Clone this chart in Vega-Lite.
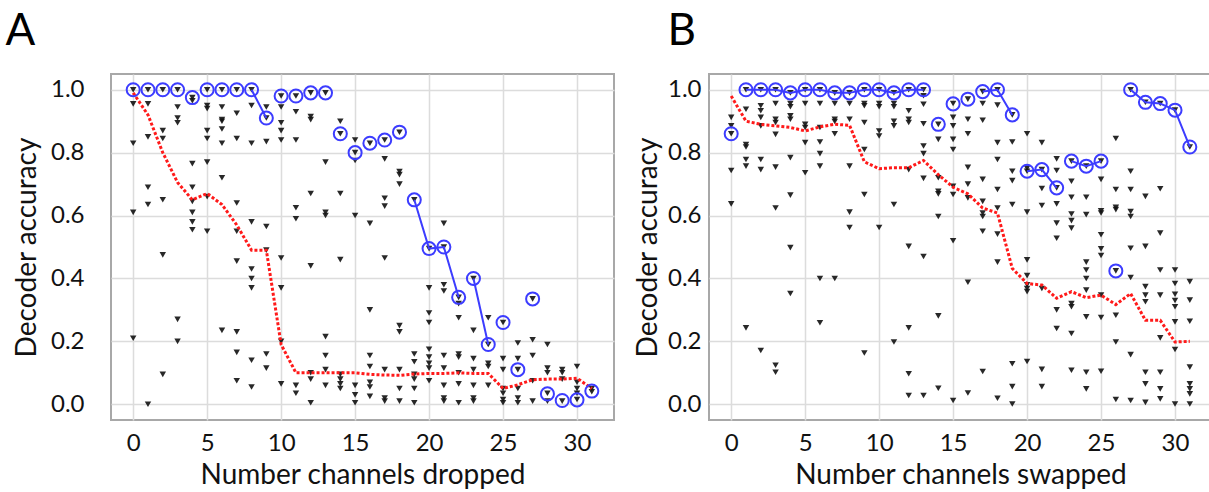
{
"$schema": "https://vega.github.io/schema/vega-lite/v6.json",
"padding": {"left": 4, "top": 9, "right": 0, "bottom": 0},
"spacing": 18,
"config": {
  "view": {"stroke": "#a8a8a8", "strokeWidth": 2},
  "font": "Lato",
  "axis": {"grid": true, "gridColor": "#dcdcdc", "gridWidth": 1.5, "ticks": false, "domain": false, "labelFontSize": 24, "titleFontSize": 28, "labelColor": "#111111", "titleColor": "#111111", "titleFontWeight": "normal", "labelFont": "Lato", "titleFont": "Lato"},
  "title": {"fontSize": 44, "fontWeight": "normal", "anchor": "start", "frame": "bounds", "color": "#000", "font": "Lato", "baseline": "alphabetic"}
},
"datasets": {
  "ptsA": [
    {"x":0,"y":1.0},{"x":0,"y":0.955},{"x":0,"y":0.83},{"x":0,"y":0.61},{"x":0,"y":0.21},
    {"x":1,"y":1.0},{"x":1,"y":0.955},{"x":1,"y":0.85},{"x":1,"y":0.69},{"x":1,"y":0.635},{"x":1,"y":0.0},
    {"x":2,"y":1.0},{"x":2,"y":0.87},{"x":2,"y":0.845},{"x":2,"y":0.65},{"x":2,"y":0.475},{"x":2,"y":0.095},
    {"x":3,"y":1.0},{"x":3,"y":0.945},{"x":3,"y":0.91},{"x":3,"y":0.895},{"x":3,"y":0.27},{"x":3,"y":0.2},
    {"x":4,"y":0.975},{"x":4,"y":0.965},{"x":4,"y":0.765},{"x":4,"y":0.69},{"x":4,"y":0.645},{"x":4,"y":0.61},{"x":4,"y":0.58},{"x":4,"y":0.555},
    {"x":5,"y":1.0},{"x":5,"y":0.95},{"x":5,"y":0.94},{"x":5,"y":0.87},{"x":5,"y":0.845},{"x":5,"y":0.77},{"x":5,"y":0.66},{"x":5,"y":0.55},
    {"x":6,"y":1.0},{"x":6,"y":0.945},{"x":6,"y":0.905},{"x":6,"y":0.9},{"x":6,"y":0.875},{"x":6,"y":0.83},{"x":6,"y":0.72},{"x":6,"y":0.235},
    {"x":7,"y":1.0},{"x":7,"y":0.925},{"x":7,"y":0.845},{"x":7,"y":0.64},{"x":7,"y":0.55},{"x":7,"y":0.455},{"x":7,"y":0.23},{"x":7,"y":0.165},{"x":7,"y":0.075},
    {"x":8,"y":1.0},{"x":8,"y":0.95},{"x":8,"y":0.83},{"x":8,"y":0.58},{"x":8,"y":0.43},{"x":8,"y":0.4},{"x":8,"y":0.37},{"x":8,"y":0.14},{"x":8,"y":0.055},
    {"x":9,"y":0.945},{"x":9,"y":0.91},{"x":9,"y":0.835},{"x":9,"y":0.565},{"x":9,"y":0.49},{"x":9,"y":0.16},{"x":9,"y":0.115},
    {"x":10,"y":0.98},{"x":10,"y":0.945},{"x":10,"y":0.895},{"x":10,"y":0.87},{"x":10,"y":0.84},{"x":10,"y":0.465},{"x":10,"y":0.37},{"x":10,"y":0.2},{"x":10,"y":0.065},
    {"x":11,"y":0.98},{"x":11,"y":0.93},{"x":11,"y":0.84},{"x":11,"y":0.625},{"x":11,"y":0.59},{"x":11,"y":0.06},{"x":11,"y":0.035},
    {"x":12,"y":0.99},{"x":12,"y":0.915},{"x":12,"y":0.905},{"x":12,"y":0.67},{"x":12,"y":0.44},{"x":12,"y":0.1},{"x":12,"y":0.08},{"x":12,"y":0.005},
    {"x":13,"y":0.99},{"x":13,"y":0.77},{"x":13,"y":0.61},{"x":13,"y":0.6},{"x":13,"y":0.215},{"x":13,"y":0.155},{"x":13,"y":0.11},{"x":13,"y":0.06},
    {"x":14,"y":0.9},{"x":14,"y":0.86},{"x":14,"y":0.67},{"x":14,"y":0.46},{"x":14,"y":0.095},{"x":14,"y":0.08},{"x":14,"y":0.065},{"x":14,"y":0.05},
    {"x":15,"y":0.84},{"x":15,"y":0.8},{"x":15,"y":0.775},{"x":15,"y":0.6},{"x":15,"y":0.06},{"x":15,"y":0.03},{"x":15,"y":0.005},
    {"x":16,"y":0.83},{"x":16,"y":0.575},{"x":16,"y":0.3},{"x":16,"y":0.155},{"x":16,"y":0.12},{"x":16,"y":0.07},{"x":16,"y":0.055},{"x":16,"y":0.025},
    {"x":17,"y":0.84},{"x":17,"y":0.78},{"x":17,"y":0.655},{"x":17,"y":0.63},{"x":17,"y":0.465},{"x":17,"y":0.11},{"x":17,"y":0.02},{"x":17,"y":0.01},
    {"x":18,"y":0.865},{"x":18,"y":0.74},{"x":18,"y":0.73},{"x":18,"y":0.7},{"x":18,"y":0.25},{"x":18,"y":0.23},{"x":18,"y":0.11},{"x":18,"y":0.05},{"x":18,"y":0.01},
    {"x":19,"y":0.65},{"x":19,"y":0.16},{"x":19,"y":0.135},{"x":19,"y":0.095},{"x":19,"y":0.08},{"x":19,"y":0.05},{"x":19,"y":0.005},
    {"x":20,"y":0.495},{"x":20,"y":0.37},{"x":20,"y":0.29},{"x":20,"y":0.26},{"x":20,"y":0.175},{"x":20,"y":0.15},{"x":20,"y":0.13},{"x":20,"y":0.115},{"x":20,"y":0.075},
    {"x":21,"y":0.575},{"x":21,"y":0.5},{"x":21,"y":0.38},{"x":21,"y":0.36},{"x":21,"y":0.155},{"x":21,"y":0.115},{"x":21,"y":0.06},{"x":21,"y":0.02},{"x":21,"y":0.01},
    {"x":22,"y":0.34},{"x":22,"y":0.32},{"x":22,"y":0.275},{"x":22,"y":0.16},{"x":22,"y":0.15},{"x":22,"y":0.1},{"x":22,"y":0.065},{"x":22,"y":0.005},
    {"x":23,"y":0.4},{"x":23,"y":0.235},{"x":23,"y":0.145},{"x":23,"y":0.11},{"x":23,"y":0.06},{"x":23,"y":0.02},{"x":23,"y":0.01},
    {"x":24,"y":0.275},{"x":24,"y":0.19},{"x":24,"y":0.13},{"x":24,"y":0.12},{"x":24,"y":0.06},
    {"x":25,"y":0.26},{"x":25,"y":0.145},{"x":25,"y":0.11},{"x":25,"y":0.05},{"x":25,"y":0.035},{"x":25,"y":0.015},{"x":25,"y":0.005},
    {"x":26,"y":0.195},{"x":26,"y":0.145},{"x":26,"y":0.11},{"x":26,"y":0.05},{"x":26,"y":0.02},{"x":26,"y":0.005},
    {"x":27,"y":0.335},{"x":27,"y":0.205},{"x":27,"y":0.155},{"x":27,"y":0.075},{"x":27,"y":0.01},
    {"x":28,"y":0.19},{"x":28,"y":0.115},{"x":28,"y":0.1},{"x":28,"y":0.035},{"x":28,"y":0.01},
    {"x":29,"y":0.11},{"x":29,"y":0.1},{"x":29,"y":0.08},{"x":29,"y":0.01},
    {"x":30,"y":0.12},{"x":30,"y":0.07},{"x":30,"y":0.05},{"x":30,"y":0.035},{"x":30,"y":0.015},
    {"x":31,"y":0.05},{"x":31,"y":0.04}
  ],
  "meanA": [
    {"x":0,"y":0.99},{"x":1,"y":0.92},{"x":2,"y":0.8},{"x":3,"y":0.705},{"x":4,"y":0.65},{"x":5,"y":0.67},{"x":6,"y":0.635},{"x":7,"y":0.57},{"x":8,"y":0.49},{"x":9,"y":0.49},{"x":10,"y":0.19},{"x":11,"y":0.1},{"x":12,"y":0.1},{"x":13,"y":0.1},{"x":14,"y":0.1},{"x":15,"y":0.1},{"x":16,"y":0.095},{"x":17,"y":0.093},{"x":18,"y":0.092},{"x":19,"y":0.096},{"x":20,"y":0.098},{"x":21,"y":0.098},{"x":22,"y":0.1},{"x":23,"y":0.098},{"x":24,"y":0.098},{"x":25,"y":0.05},{"x":26,"y":0.062},{"x":27,"y":0.078},{"x":28,"y":0.08},{"x":29,"y":0.08},{"x":30,"y":0.083},{"x":31,"y":0.05}
  ],
  "maxA": [
    {"x":0,"y":1.0,"seg":null},{"x":1,"y":1.0,"seg":null},{"x":2,"y":1.0,"seg":null},{"x":3,"y":1.0,"seg":null},{"x":4,"y":0.975,"seg":null},{"x":5,"y":1.0,"seg":null},{"x":6,"y":1.0,"seg":null},{"x":7,"y":1.0,"seg":null},{"x":8,"y":1.0,"seg":"a1"},{"x":9,"y":0.91,"seg":"a1"},{"x":10,"y":0.98,"seg":null},{"x":11,"y":0.98,"seg":null},{"x":12,"y":0.99,"seg":null},{"x":13,"y":0.99,"seg":null},{"x":14,"y":0.86,"seg":null},{"x":15,"y":0.8,"seg":null},{"x":16,"y":0.83,"seg":null},{"x":17,"y":0.84,"seg":null},{"x":18,"y":0.865,"seg":null},{"x":19,"y":0.65,"seg":"a2"},{"x":20,"y":0.495,"seg":"a2"},{"x":21,"y":0.5,"seg":"a2"},{"x":22,"y":0.34,"seg":"a2"},{"x":23,"y":0.4,"seg":"a3"},{"x":24,"y":0.19,"seg":"a3"},{"x":25,"y":0.26,"seg":null},{"x":26,"y":0.11,"seg":null},{"x":27,"y":0.335,"seg":null},{"x":28,"y":0.033,"seg":null},{"x":29,"y":0.012,"seg":null},{"x":30,"y":0.014,"seg":null},{"x":31,"y":0.042,"seg":null}
  ],
  "ptsB": [
    {"x":0,"y":0.912},{"x":0,"y":0.885},{"x":0,"y":0.86},{"x":0,"y":0.743},{"x":0,"y":0.637},
    {"x":1,"y":1.0},{"x":1,"y":0.938},{"x":1,"y":0.826},{"x":1,"y":0.818},{"x":1,"y":0.778},{"x":1,"y":0.757},{"x":1,"y":0.243},
    {"x":2,"y":1.0},{"x":2,"y":0.949},{"x":2,"y":0.933},{"x":2,"y":0.912},{"x":2,"y":0.885},{"x":2,"y":0.778},{"x":2,"y":0.746},{"x":2,"y":0.171},
    {"x":3,"y":1.0},{"x":3,"y":0.956},{"x":3,"y":0.906},{"x":3,"y":0.896},{"x":3,"y":0.858},{"x":3,"y":0.754},{"x":3,"y":0.624},{"x":3,"y":0.124},{"x":3,"y":0.102},
    {"x":4,"y":0.99},{"x":4,"y":0.956},{"x":4,"y":0.946},{"x":4,"y":0.917},{"x":4,"y":0.906},{"x":4,"y":0.784},{"x":4,"y":0.665},{"x":4,"y":0.498},{"x":4,"y":0.352},
    {"x":5,"y":1.0},{"x":5,"y":0.956},{"x":5,"y":0.89},{"x":5,"y":0.88},{"x":5,"y":0.832},{"x":5,"y":0.736},
    {"x":6,"y":1.0},{"x":6,"y":0.956},{"x":6,"y":0.88},{"x":6,"y":0.834},{"x":6,"y":0.797},{"x":6,"y":0.757},{"x":6,"y":0.4},{"x":6,"y":0.259},
    {"x":7,"y":0.99},{"x":7,"y":0.956},{"x":7,"y":0.906},{"x":7,"y":0.899},{"x":7,"y":0.86},{"x":7,"y":0.4},
    {"x":8,"y":0.99},{"x":8,"y":0.956},{"x":8,"y":0.906},{"x":8,"y":0.757},{"x":8,"y":0.611},{"x":8,"y":0.562},
    {"x":9,"y":1.0},{"x":9,"y":0.956},{"x":9,"y":0.949},{"x":9,"y":0.896},{"x":9,"y":0.81},{"x":9,"y":0.667},{"x":9,"y":0.163},
    {"x":10,"y":1.0},{"x":10,"y":0.956},{"x":10,"y":0.946},{"x":10,"y":0.869},{"x":10,"y":0.853},{"x":10,"y":0.562},
    {"x":11,"y":0.99},{"x":11,"y":0.956},{"x":11,"y":0.946},{"x":11,"y":0.9},{"x":11,"y":0.885},{"x":11,"y":0.635},{"x":11,"y":0.198},
    {"x":12,"y":1.0},{"x":12,"y":0.933},{"x":12,"y":0.906},{"x":12,"y":0.896},{"x":12,"y":0.746},{"x":12,"y":0.502},{"x":12,"y":0.243},{"x":12,"y":0.097},{"x":12,"y":0.028},
    {"x":13,"y":1.0},{"x":13,"y":0.981},{"x":13,"y":0.954},{"x":13,"y":0.892},{"x":13,"y":0.821},{"x":13,"y":0.797},{"x":13,"y":0.718},{"x":13,"y":0.47},{"x":13,"y":0.028},
    {"x":14,"y":0.89},{"x":14,"y":0.842},{"x":14,"y":0.72},{"x":14,"y":0.677},{"x":14,"y":0.669},{"x":14,"y":0.597},{"x":14,"y":0.281},{"x":14,"y":0.051},
    {"x":15,"y":0.956},{"x":15,"y":0.912},{"x":15,"y":0.885},{"x":15,"y":0.842},{"x":15,"y":0.81},{"x":15,"y":0.693},{"x":15,"y":0.667},{"x":15,"y":0.52},{"x":15,"y":0.012},
    {"x":16,"y":0.97},{"x":16,"y":0.906},{"x":16,"y":0.86},{"x":16,"y":0.753},{"x":16,"y":0.7},{"x":16,"y":0.656},{"x":16,"y":0.388},{"x":16,"y":0.036},
    {"x":17,"y":0.994},{"x":17,"y":0.956},{"x":17,"y":0.903},{"x":17,"y":0.715},{"x":17,"y":0.645},{"x":17,"y":0.608},{"x":17,"y":0.597},{"x":17,"y":0.55},{"x":17,"y":0.104},
    {"x":18,"y":1.0},{"x":18,"y":0.951},{"x":18,"y":0.832},{"x":18,"y":0.778},{"x":18,"y":0.683},{"x":18,"y":0.624},{"x":18,"y":0.541},{"x":18,"y":0.452},{"x":18,"y":0.019},
    {"x":19,"y":0.92},{"x":19,"y":0.834},{"x":19,"y":0.741},{"x":19,"y":0.711},{"x":19,"y":0.635},{"x":19,"y":0.129},{"x":19,"y":0.056},{"x":19,"y":0.001},
    {"x":20,"y":0.86},{"x":20,"y":0.75},{"x":20,"y":0.741},{"x":20,"y":0.611},{"x":20,"y":0.459},{"x":20,"y":0.409},{"x":20,"y":0.38},{"x":20,"y":0.368},{"x":20,"y":0.358},{"x":20,"y":0.136},
    {"x":21,"y":0.832},{"x":21,"y":0.746},{"x":21,"y":0.686},{"x":21,"y":0.632},{"x":21,"y":0.368},{"x":21,"y":0.111},{"x":21,"y":0.056},
    {"x":22,"y":0.78},{"x":22,"y":0.743},{"x":22,"y":0.688},{"x":22,"y":0.637},{"x":22,"y":0.576},{"x":22,"y":0.528},{"x":22,"y":0.3},{"x":22,"y":0.241},
    {"x":23,"y":0.773},{"x":23,"y":0.709},{"x":23,"y":0.658},{"x":23,"y":0.605},{"x":23,"y":0.584},{"x":23,"y":0.56},{"x":23,"y":0.32},{"x":23,"y":0.31},{"x":23,"y":0.225},{"x":23,"y":0.108},
    {"x":24,"y":0.757},{"x":24,"y":0.658},{"x":24,"y":0.603},{"x":24,"y":0.452},{"x":24,"y":0.427},{"x":24,"y":0.4},{"x":24,"y":0.363},{"x":24,"y":0.278},{"x":24,"y":0.102},{"x":24,"y":0.049},
    {"x":25,"y":0.773},{"x":25,"y":0.715},{"x":25,"y":0.615},{"x":25,"y":0.608},{"x":25,"y":0.539},{"x":25,"y":0.494},{"x":25,"y":0.473},{"x":25,"y":0.347},{"x":25,"y":0.276},{"x":25,"y":0.105},
    {"x":26,"y":0.845},{"x":26,"y":0.683},{"x":26,"y":0.626},{"x":26,"y":0.619},{"x":26,"y":0.424},{"x":26,"y":0.283},{"x":26,"y":0.198},{"x":26,"y":0.015},
    {"x":27,"y":1.0},{"x":27,"y":0.741},{"x":27,"y":0.683},{"x":27,"y":0.613},{"x":27,"y":0.597},{"x":27,"y":0.496},{"x":27,"y":0.403},{"x":27,"y":0.158},{"x":27,"y":0.012},
    {"x":28,"y":0.96},{"x":28,"y":0.661},{"x":28,"y":0.502},{"x":28,"y":0.374},{"x":28,"y":0.347},{"x":28,"y":0.326},{"x":28,"y":0.102},{"x":28,"y":0.065},{"x":28,"y":0.006},
    {"x":29,"y":0.956},{"x":29,"y":0.685},{"x":29,"y":0.544},{"x":29,"y":0.427},{"x":29,"y":0.347},{"x":29,"y":0.211},{"x":29,"y":0.102},{"x":29,"y":0.049},{"x":29,"y":0.017},
    {"x":30,"y":0.935},{"x":30,"y":0.427},{"x":30,"y":0.384},{"x":30,"y":0.35},{"x":30,"y":0.33},{"x":30,"y":0.31},{"x":30,"y":0.262},{"x":30,"y":0.174},{"x":30,"y":0.001},
    {"x":31,"y":0.818},{"x":31,"y":0.39},{"x":31,"y":0.331},{"x":31,"y":0.264},{"x":31,"y":0.118},{"x":31,"y":0.065},{"x":31,"y":0.049},{"x":31,"y":0.033},{"x":31,"y":0.001}
  ],
  "meanB": [
    {"x":0,"y":0.98},{"x":1,"y":0.9},{"x":2,"y":0.89},{"x":3,"y":0.885},{"x":4,"y":0.88},{"x":5,"y":0.869},{"x":6,"y":0.882},{"x":7,"y":0.89},{"x":8,"y":0.887},{"x":9,"y":0.771},{"x":10,"y":0.749},{"x":11,"y":0.752},{"x":12,"y":0.752},{"x":13,"y":0.775},{"x":14,"y":0.73},{"x":15,"y":0.69},{"x":16,"y":0.669},{"x":17,"y":0.624},{"x":18,"y":0.608},{"x":19,"y":0.432},{"x":20,"y":0.384},{"x":21,"y":0.379},{"x":22,"y":0.337},{"x":23,"y":0.358},{"x":24,"y":0.339},{"x":25,"y":0.347},{"x":26,"y":0.317},{"x":27,"y":0.352},{"x":28,"y":0.267},{"x":29,"y":0.267},{"x":30,"y":0.198},{"x":31,"y":0.2}
  ],
  "maxB": [
    {"x":0,"y":0.86,"seg":null},{"x":1,"y":1.0,"seg":"b1"},{"x":2,"y":1.0,"seg":"b1"},{"x":3,"y":1.0,"seg":"b1"},{"x":4,"y":0.99,"seg":"b1"},{"x":5,"y":1.0,"seg":"b1"},{"x":6,"y":1.0,"seg":"b1"},{"x":7,"y":0.99,"seg":"b1"},{"x":8,"y":0.99,"seg":"b1"},{"x":9,"y":1.0,"seg":"b1"},{"x":10,"y":1.0,"seg":"b1"},{"x":11,"y":0.99,"seg":"b1"},{"x":12,"y":1.0,"seg":"b1"},{"x":13,"y":1.0,"seg":"b1"},{"x":14,"y":0.89,"seg":null},{"x":15,"y":0.955,"seg":null},{"x":16,"y":0.97,"seg":null},{"x":17,"y":0.994,"seg":"b2"},{"x":18,"y":1.0,"seg":"b2"},{"x":19,"y":0.92,"seg":"b2"},{"x":20,"y":0.741,"seg":"b3"},{"x":21,"y":0.746,"seg":"b3"},{"x":22,"y":0.688,"seg":"b3"},{"x":23,"y":0.773,"seg":"b4"},{"x":24,"y":0.757,"seg":"b4"},{"x":25,"y":0.773,"seg":"b4"},{"x":26,"y":0.424,"seg":null},{"x":27,"y":1.0,"seg":"b5"},{"x":28,"y":0.96,"seg":"b5"},{"x":29,"y":0.956,"seg":"b5"},{"x":30,"y":0.935,"seg":"b5"},{"x":31,"y":0.818,"seg":"b5"}
  ]
},
"hconcat": [
  {
    "width": 503, "height": 346,
    "title": {"text": "A", "dx": -8, "offset": 20},
    "layer": [
      {"data": {"name": "ptsA"},
       "mark": {"type": "point", "shape": "triangle-down", "filled": true, "size": 42, "color": "#111111", "opacity": 0.9},
       "encoding": {
         "x": {"field": "x", "type": "quantitative", "scale": {"domain": [-1.5, 32.5], "nice": false, "zero": false},
               "axis": {"values": [0,5,10,15,20,25,30], "title": "Number channels dropped", "labelPadding": 11, "titlePadding": 6}},
         "y": {"field": "y", "type": "quantitative", "scale": {"domain": [-0.05, 1.05], "nice": false, "zero": false},
               "axis": {"values": [0,0.1,0.2,0.3,0.4,0.5,0.6,0.7,0.8,0.9,1.0], "labelExpr": "round(datum.value*10) % 2 == 0 ? format(datum.value, '.1f') : ''", "title": "Decoder accuracy", "labelPadding": 27, "titlePadding": 9}}
       }},
      {"data": {"name": "meanA"},
       "mark": {"type": "line", "color": "#ff1a1a", "strokeWidth": 3, "strokeDash": [3, 2]},
       "encoding": {"x": {"field": "x", "type": "quantitative"}, "y": {"field": "y", "type": "quantitative"}}},
      {"data": {"name": "maxA"},
       "transform": [{"filter": "datum.seg != null"}],
       "mark": {"type": "line", "color": "#3c3cff", "strokeWidth": 2},
       "encoding": {"x": {"field": "x", "type": "quantitative"}, "y": {"field": "y", "type": "quantitative"}, "detail": {"field": "seg"}}},
      {"data": {"name": "maxA"},
       "mark": {"type": "point", "shape": "circle", "size": 170, "stroke": "#3c3cff", "strokeWidth": 2, "filled": false, "opacity": 1},
       "encoding": {"x": {"field": "x", "type": "quantitative"}, "y": {"field": "y", "type": "quantitative"}}}
    ]
  },
  {
    "width": 503, "height": 346,
    "title": {"text": "B", "dx": 33, "offset": 20},
    "layer": [
      {"data": {"name": "ptsB"},
       "mark": {"type": "point", "shape": "triangle-down", "filled": true, "size": 42, "color": "#111111", "opacity": 0.9},
       "encoding": {
         "x": {"field": "x", "type": "quantitative", "scale": {"domain": [-1.5, 32.5], "nice": false, "zero": false},
               "axis": {"values": [0,5,10,15,20,25,30], "title": "Number channels swapped", "labelPadding": 11, "titlePadding": 6}},
         "y": {"field": "y", "type": "quantitative", "scale": {"domain": [-0.05, 1.05], "nice": false, "zero": false},
               "axis": {"values": [0,0.1,0.2,0.3,0.4,0.5,0.6,0.7,0.8,0.9,1.0], "labelExpr": "round(datum.value*10) % 2 == 0 ? format(datum.value, '.1f') : ''", "title": "Decoder accuracy", "labelPadding": 8, "titlePadding": 5}}
       }},
      {"data": {"name": "meanB"},
       "mark": {"type": "line", "color": "#ff1a1a", "strokeWidth": 3, "strokeDash": [3, 2]},
       "encoding": {"x": {"field": "x", "type": "quantitative"}, "y": {"field": "y", "type": "quantitative"}}},
      {"data": {"name": "maxB"},
       "transform": [{"filter": "datum.seg != null"}],
       "mark": {"type": "line", "color": "#3c3cff", "strokeWidth": 2},
       "encoding": {"x": {"field": "x", "type": "quantitative"}, "y": {"field": "y", "type": "quantitative"}, "detail": {"field": "seg"}}},
      {"data": {"name": "maxB"},
       "mark": {"type": "point", "shape": "circle", "size": 170, "stroke": "#3c3cff", "strokeWidth": 2, "filled": false, "opacity": 1},
       "encoding": {"x": {"field": "x", "type": "quantitative"}, "y": {"field": "y", "type": "quantitative"}}}
    ]
  }
]
}
